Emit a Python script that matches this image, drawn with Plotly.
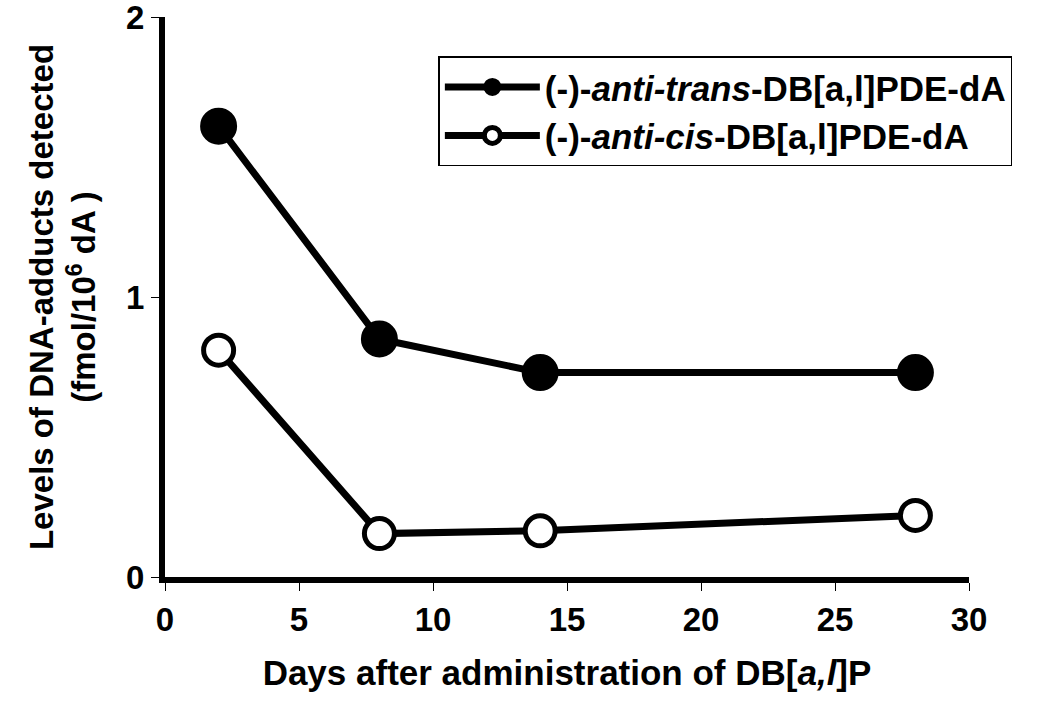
import plotly.graph_objects as go

days = [2, 8, 14, 28]
trans_vals = [1.61, 0.85, 0.73, 0.73]
cis_vals = [0.81, 0.155, 0.165, 0.22]
x_ticks = [0, 5, 10, 15, 20, 25, 30]
y_ticks = [0, 1, 2]

FONT = "Liberation Sans, Arial, sans-serif"

fig = go.Figure()
fig.add_trace(go.Scatter(
    x=days, y=trans_vals, mode="lines+markers",
    name="<b>(-)-<i>anti-trans</i>-DB[a,l]PDE-dA</b>",
    line=dict(color="black", width=7),
    marker=dict(symbol="circle", size=35, color="black", line=dict(color="black", width=2)),
))
fig.add_trace(go.Scatter(
    x=days, y=cis_vals, mode="lines+markers",
    name="<b>(-)-<i>anti-cis</i>-DB[a,l]PDE-dA</b>",
    line=dict(color="black", width=7),
    marker=dict(symbol="circle", size=30, color="white", line=dict(color="black", width=5)),
))

fig.update_layout(
    width=1050, height=705,
    margin=dict(l=165, r=81, t=17, b=128),
    paper_bgcolor="white", plot_bgcolor="white",
    font=dict(family=FONT, size=32, color="black"),
    showlegend=True,
    legend=dict(
        x=0.34, y=0.93, xanchor="left", yanchor="top",
        bordercolor="black", borderwidth=1.5,
        font=dict(size=35, family=FONT),
        itemwidth=95, tracegroupgap=0,
        bgcolor="white",
    ),
)
fig.update_xaxes(
    range=[0, 30], tickvals=x_ticks,
    ticktext=["<b>%d</b>" % v for v in x_ticks],
    automargin=False,
    showline=True, linecolor="black", linewidth=6,
    ticks="outside", ticklen=8, tickwidth=1, tickcolor="black",
    showgrid=False, zeroline=False,
    tickfont=dict(size=33, family=FONT),
    title=dict(text="<b>Days after administration of DB[<i>a,l</i>]P</b>",
               font=dict(size=35, family=FONT), standoff=26),
)
fig.update_yaxes(
    range=[0, 2], tickvals=y_ticks,
    ticktext=["<b>%d</b>" % v for v in y_ticks],
    ticklabeloverflow="allow", automargin=False,
    showline=True, linecolor="black", linewidth=6,
    ticks="outside", ticklen=8, tickwidth=1, tickcolor="black",
    showgrid=False, zeroline=False,
    tickfont=dict(size=33, family=FONT),
    title=dict(text="<b>Levels of DNA-adducts detected<br>(fmol/10<sup>6</sup> dA )</b>",
               font=dict(size=33, family=FONT), standoff=22),
)

# page body margin off so the figure sits at the window's corner
fig.write_html(
    "out.html",
    config={"displayModeBar": False},
    post_script="document.body.style.margin='0';",
)
